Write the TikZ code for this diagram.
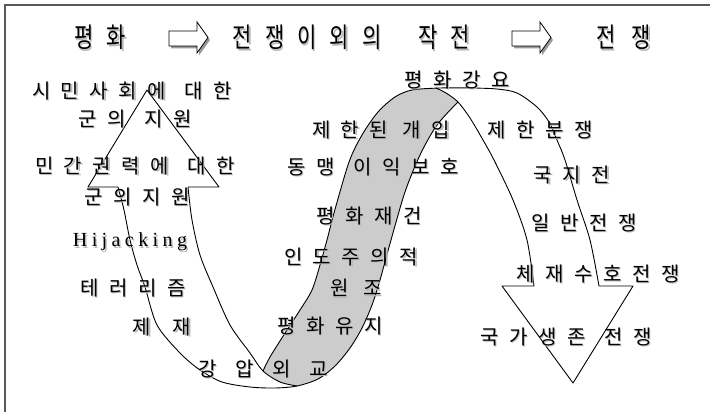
\documentclass[tikz,border=0pt]{standalone}
\usepackage{fontspec}
\usepackage{graphicx}
\newfontfamily\kr{Noto Sans CJK KR}
\newfontfamily\latn{Liberation Serif}
\definecolor{bandgray}{RGB}{204,204,204}
\definecolor{txtshadow}{RGB}{185,185,185}
\newcommand\G[1]{\hspace{#1pt}}
\newcommand\sg{\hspace{10.5pt}}
\newcommand\hg{\hspace{13pt}}
\newcommand\W{\hspace{18.5pt}}
\newcommand\hk{\kern4.4pt}
\newcommand\lblfont{\kr\fontsize{20}{24}\selectfont}
\newcommand\hdrfont{\kr\fontsize{21}{26}\selectfont}
% label with a soft drop shadow: [style]{name}{position}{text}
\newcommand\lab[4][lbl]{%
  \node[#1, text=txtshadow, xshift=1.4pt, yshift=-1.4pt] (#2s) at (#3) {#4};
  \node[#1] (#2) at (#3) {#4};}
\begin{document}
\begin{tikzpicture}[x=1pt,y=-1pt,
  lbl/.style={font=\lblfont, inner sep=0pt},
  hdr/.style={font=\hdrfont, inner sep=0pt},
  latlbl/.style={font=\latn\fontsize{20}{24}\selectfont, inner sep=0pt},
  curveline/.style={line width=0.9pt, line join=round},
  hdrarrow/.style={fill=white, draw=black, line width=0.8pt, line join=miter},
  hdrshadow/.style={fill=black!40},
  frame/.style={line width=1.6pt, black!65}
]
\useasboundingbox (0,0) rectangle (710,412);
\draw[frame] (5,412) -- (5,5) -- (710,5);

% header arrows
\foreach \x in {169,512} {
  \fill[hdrshadow] (\x+2,33.5) -- (\x+30,33.5) -- (\x+30,24.5) -- (\x+41,40) -- (\x+30,55.5) -- (\x+30,48.5) -- (\x+2,48.5) -- cycle;
  \filldraw[hdrarrow] (\x,31) -- (\x+28,31) -- (\x+28,22) -- (\x+39,37.5) -- (\x+28,53) -- (\x+28,46) -- (\x,46) -- cycle;
}

% gray face of the ribbon
\fill[bandgray] plot[smooth] coordinates {(263,371) (270,357) (287,330) (300,310) (312,290) (320,265) (327,240) (334,213) (349,162) (362,135) (378,112) (395,97) (412,90) (436,88)}
  -- plot[smooth] coordinates {(436,88) (446,93) (458,102)}
  -- plot[smooth] coordinates {(458,102) (437,125) (420,155) (405,192) (391,240) (380,280) (372,305) (362,328) (350,348) (335,366) (318,379) (297,386)}
  -- plot[smooth] coordinates {(297,386) (280,382) (263,371)} -- cycle;

% ribbon edges
\draw[curveline] plot[smooth] coordinates {(118,187) (124,210) (130,240) (137,265) (145,287) (157,325) (180,353) (200,370) (222,382) (250,387) (275,388) (297,386) (318,379) (335,366) (350,348) (362,328) (372,305) (380,280) (391,240) (405,192) (420,155) (437,125) (458,102)};
\draw[curveline] plot[smooth] coordinates {(188,187) (192,220) (200,255) (213,287) (230,325) (250,353) (263,371) (280,382) (297,386)};
\draw[curveline] plot[smooth] coordinates {(263,371) (270,357) (287,330) (300,310) (312,290) (320,265) (327,240) (334,213) (349,162) (362,135) (378,112) (395,97) (412,90) (440,88) (470,88) (497,89) (517,93) (537,107) (549,122) (557,140) (565,160) (577,200) (590,240) (599,286)};
\draw[curveline] plot[smooth] coordinates {(534,286) (527,240) (513,200) (494,160) (483,140) (470,118) (458,102) (446,93) (436,88)};
% arrow heads
\draw[curveline] (118,187) -- (88,187) -- (147,90) -- (219,187) -- (188,187);
\draw[curveline] (534,286) -- (502,286) -- (573,383) -- (633,286) -- (599,286);

% header text
\lab[hdr]{h1}{100.25,37.5}{\scalebox{1}[1.3]{평\G{13.5}화}}
\lab[hdr]{h2}{351.5,37.5}{\scalebox{1}[1.3]{전\hg 쟁\hg 이\hg 외\hg 의\G{37}작\hg 전}}
\lab[hdr]{h3}{623.75,37.5}{\scalebox{1}[1.3]{전\G{16.5}쟁}}

% left labels
\lab{l1}{132,91}{시\sg 민\sg 사\sg 회\sg 에\W 대\sg 한}
\lab{l2}{135,119}{군\sg 의\W 지\sg 원}
\lab{l3}{135,166}{민\sg 간\sg 권\sg 력\sg 에\W 대\sg 한}
\lab{l4}{137,197}{군\sg 의\sg 지\sg 원}
\lab[latlbl]{l5}{130,242}{H\hk i\hk j\hk a\hk c\hk k\hk i\hk n\hk g}
\lab{l6}{133,288}{테\sg 러\sg 리\sg 즘}
\lab{l7}{162,327}{제\G{21.5}재}
\lab{l8}{263,369}{강\W 압\W 외\W 교}

% centre labels
\lab{c1}{457,80}{평\sg 화\sg 강\sg 요}
\lab{c2}{381,130}{제\sg 한\sg 된\G{14.5}개\sg 입}
\lab{c3}{373,167}{동\sg 맹\W 이\sg 익\sg 보\sg 호}
\lab{c4}{369,216}{평\sg 화\sg 재\sg 건}
\lab{c5}{351,257}{인\sg 도\sg 주\sg 의\sg 적}
\lab{c6}{356,288}{원\G{14.5}조}
\lab{c7}{330,326}{평\sg 화\sg 유\sg 지}

% right labels
\lab{r1}{540,130}{제\sg 한\sg 분\sg 쟁}
\lab{r2}{572,175}{국\sg 지\sg 전}
\lab{r3}{584,223}{일\sg 반\sg 전\sg 쟁}
\lab{r4}{598,274}{체\sg 재\sg 수\sg 호\sg 전\sg 쟁}
\lab{r5}{566,337}{국\sg 가\sg 생\sg 존\W 전\sg 쟁}
\end{tikzpicture}
\end{document}
